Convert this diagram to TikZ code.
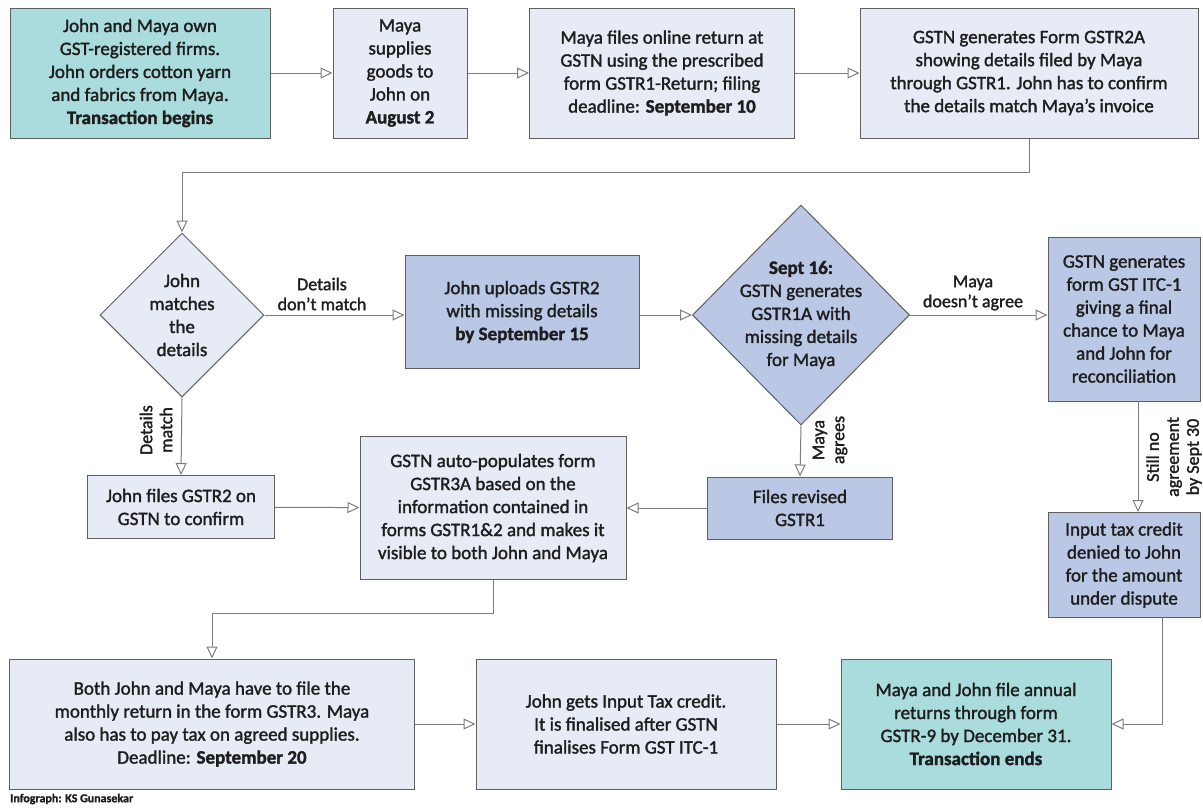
\documentclass[tikz,border=0pt]{standalone}
\usepackage{fontspec}
\setmainfont{Carlito}[RawFeature={embolden=1.6}]
\usetikzlibrary{shapes.geometric,arrows.meta}

\definecolor{tealfill}{RGB}{170,220,222}
\definecolor{palefill}{RGB}{231,235,246}
\definecolor{bluefill}{RGB}{186,200,230}
\definecolor{edgegray}{RGB}{95,95,95}
\definecolor{linegray}{RGB}{125,125,125}
\definecolor{inkgray}{RGB}{30,30,30}

\tikzset{
  basebox/.style={draw=edgegray, line width=1pt, inner sep=0pt, align=center,
    text=inkgray, font=\fontsize{19}{23}\selectfont},
  startbox/.style={basebox, fill=tealfill},
  stepbox/.style={basebox, fill=palefill},
  bluebox/.style={basebox, fill=bluefill},
  decision/.style={draw=edgegray, line width=1pt, shape=diamond, inner sep=0pt},
  dtext/.style={align=center, text=inkgray, font=\fontsize{19}{23}\selectfont},
  lbl/.style={align=center, text=inkgray, inner sep=0pt, font=\fontsize{18}{20}\selectfont},
  vlbl/.style={lbl, rotate=90},
  conn/.style={draw=linegray, line width=1pt, -{Triangle[open, length=12pt, width=11pt]}},
  credit/.style={text=inkgray, inner sep=0pt, font=\fontsize{12}{14}\selectfont\bfseries}
}

\begin{document}
\begin{tikzpicture}[x=1pt, y=-1pt]
\useasboundingbox (0,0) rectangle (1203,807);
%first row
\node[startbox, minimum width=260pt, minimum height=130pt] (start) at (140,73)
  {John and Maya own\\GST-registered firms.\\John orders cotton yarn\\and fabrics from Maya.\\\textbf{Transaction begins}};
\node[stepbox, minimum width=134pt, minimum height=130pt] (supply) at (400,73)
  {Maya\\supplies\\goods to\\John on\\\textbf{August 2}};
\node[stepbox, minimum width=265pt, minimum height=130pt] (gstrone) at (662,73)
  {Maya files online return at\\GSTN using the prescribed\\form GSTR1-Return; filing\\deadline: \textbf{September 10}};
\node[stepbox, minimum width=338pt, minimum height=130pt] (gstrtwoa) at (1029,73)
  {GSTN generates Form GSTR2A\\showing details filed by Maya\\through GSTR1. John has to confirm\\the details match Maya's invoice};
%second row
\node[decision, fill=palefill, minimum width=164pt, minimum height=164pt] (match) at (182,315) {};
\node[dtext] (matcht) at (match) {John\\matches\\the\\details};
\node[bluebox, minimum width=234pt, minimum height=113pt] (upload) at (522,312)
  {John uploads GSTR2\\with missing details\\\textbf{by September 15}};
\node[decision, fill=bluefill, minimum width=217pt, minimum height=220pt] (sept) at (801,315) {};
\node[dtext] (septt) at (sept) {\textbf{Sept 16:}\\GSTN generates\\GSTR1A with\\missing details\\for Maya};
\node[bluebox, minimum width=152pt, minimum height=164pt] (itc) at (1124,319)
  {GSTN generates\\form GST ITC-1\\giving a final\\chance to Maya\\and John for\\reconciliation};
%third row
\node[stepbox, minimum width=187pt, minimum height=63pt] (confirm) at (181,507)
  {John files GSTR2 on\\GSTN to confirm};
\node[stepbox, minimum width=266pt, minimum height=143pt] (auto) at (493,508)
  {GSTN auto-populates form\\GSTR3A based on the\\information contained in\\forms GSTR1\&2 and makes it\\visible to both John and Maya};
\node[bluebox, minimum width=185pt, minimum height=62pt] (revised) at (800,508)
  {Files revised\\GSTR1};
\node[bluebox, minimum width=152pt, minimum height=105pt] (denied) at (1124,565)
  {Input tax credit\\denied to John\\for the amount\\under dispute};
%last row
\node[stepbox, minimum width=405pt, minimum height=130pt] (monthly) at (212,724)
  {Both John and Maya have to file the\\monthly return in the form GSTR3. Maya\\also has to pay tax on agreed supplies.\\Deadline: \textbf{September 20}};
\node[stepbox, minimum width=300pt, minimum height=130pt] (credit) at (626,724)
  {John gets Input Tax credit.\\It is finalised after GSTN\\finalises Form GST ITC-1};
\node[startbox, minimum width=270pt, minimum height=130pt] (annual) at (976,724)
  {Maya and John file annual\\returns through form\\GSTR-9 by December 31.\\\textbf{Transaction ends}};
%connectors
\draw[conn] (start) -- (supply);
\draw[conn] (supply) -- (gstrone);
\draw[conn] (gstrone) -- (gstrtwoa);
\draw[conn] (gstrtwoa.south) -- ++(0,34) -| (match.north);
\draw[conn] (match.east) -- (match.east -| upload.west);
\draw[conn] (upload.east |- sept.west) -- (sept.west);
\draw[conn] (sept.east) -- (sept.east -| itc.west);
\draw[conn] (match.south) -- (confirm.north);
\draw[conn] (sept.south) -- (revised.north);
\draw[conn] ([xshift=14pt]itc.south) -- ([xshift=14pt]denied.north);
\draw[conn] (confirm) -- (auto);
\draw[conn] (revised) -- (auto);
\draw[conn] (auto.south) -- ++(0,33) -| (monthly.north);
\draw[conn] (monthly) -- (credit);
\draw[conn] (credit) -- (annual);
\draw[conn] ([xshift=38pt]denied.south) |- (annual.east);
%labels
\node[lbl] (nomatch) at (322,294) {Details\\don't match};
\node[lbl] (disagree) at (973,293) {Maya\\doesn't agree};
\node[vlbl] (yesmatch) at (156,430) {Details\\match};
\node[vlbl] (agree) at (830,440) {Maya\\agrees};
\node[vlbl] (noagree) at (1174,457) {Still no\\agreement\\by Sept 30};
\node[credit, anchor=west] (infograph) at (10,799) {Infograph: KS Gunasekar};
\end{tikzpicture}
\end{document}
